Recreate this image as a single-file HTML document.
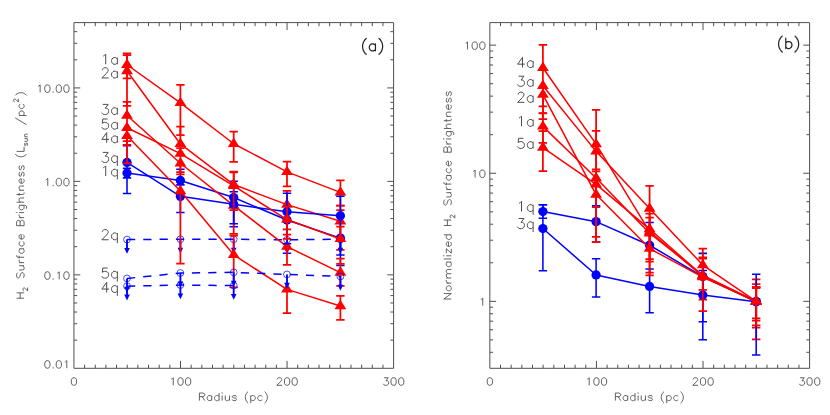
<!DOCTYPE html>
<html><head><meta charset="utf-8"><title>H2 surface brightness</title>
<style>html,body{margin:0;padding:0;background:#fff;font-family:"Liberation Sans",sans-serif;}svg{display:block}</style>
</head><body>
<svg width="830" height="415" viewBox="0 0 830 415">
<rect width="830" height="415" fill="#fff"/>
<path d="M73.95 22.6 H393.6 V368.3 H73.95 Z M84.61 368.3 v-3.6 M84.61 22.6 v3.6 M95.26 368.3 v-3.6 M95.26 22.6 v3.6 M105.92 368.3 v-3.6 M105.92 22.6 v3.6 M116.57 368.3 v-3.6 M116.57 22.6 v3.6 M127.23 368.3 v-3.6 M127.23 22.6 v3.6 M137.88 368.3 v-3.6 M137.88 22.6 v3.6 M148.54 368.3 v-3.6 M148.54 22.6 v3.6 M159.19 368.3 v-3.6 M159.19 22.6 v3.6 M169.85 368.3 v-3.6 M169.85 22.6 v3.6 M180.5 368.3 v-7.4 M180.5 22.6 v7.4 M191.16 368.3 v-3.6 M191.16 22.6 v3.6 M201.81 368.3 v-3.6 M201.81 22.6 v3.6 M212.47 368.3 v-3.6 M212.47 22.6 v3.6 M223.12 368.3 v-3.6 M223.12 22.6 v3.6 M233.78 368.3 v-3.6 M233.78 22.6 v3.6 M244.43 368.3 v-3.6 M244.43 22.6 v3.6 M255.09 368.3 v-3.6 M255.09 22.6 v3.6 M265.74 368.3 v-3.6 M265.74 22.6 v3.6 M276.4 368.3 v-3.6 M276.4 22.6 v3.6 M287.05 368.3 v-7.4 M287.05 22.6 v7.4 M297.71 368.3 v-3.6 M297.71 22.6 v3.6 M308.36 368.3 v-3.6 M308.36 22.6 v3.6 M319.02 368.3 v-3.6 M319.02 22.6 v3.6 M329.67 368.3 v-3.6 M329.67 22.6 v3.6 M340.33 368.3 v-3.6 M340.33 22.6 v3.6 M350.98 368.3 v-3.6 M350.98 22.6 v3.6 M361.64 368.3 v-3.6 M361.64 22.6 v3.6 M372.29 368.3 v-3.6 M372.29 22.6 v3.6 M382.94 368.3 v-3.6 M382.94 22.6 v3.6 M73.95 340.17 h3.2 M393.6 340.17 h-3.2 M73.95 323.71 h3.2 M393.6 323.71 h-3.2 M73.95 312.03 h3.2 M393.6 312.03 h-3.2 M73.95 302.98 h3.2 M393.6 302.98 h-3.2 M73.95 295.58 h3.2 M393.6 295.58 h-3.2 M73.95 289.32 h3.2 M393.6 289.32 h-3.2 M73.95 283.9 h3.2 M393.6 283.9 h-3.2 M73.95 279.12 h3.2 M393.6 279.12 h-3.2 M73.95 274.84 h6.3 M393.6 274.84 h-6.3 M73.95 246.71 h3.2 M393.6 246.71 h-3.2 M73.95 230.25 h3.2 M393.6 230.25 h-3.2 M73.95 218.57 h3.2 M393.6 218.57 h-3.2 M73.95 209.52 h3.2 M393.6 209.52 h-3.2 M73.95 202.12 h3.2 M393.6 202.12 h-3.2 M73.95 195.86 h3.2 M393.6 195.86 h-3.2 M73.95 190.44 h3.2 M393.6 190.44 h-3.2 M73.95 185.66 h3.2 M393.6 185.66 h-3.2 M73.95 181.38 h6.3 M393.6 181.38 h-6.3 M73.95 153.25 h3.2 M393.6 153.25 h-3.2 M73.95 136.79 h3.2 M393.6 136.79 h-3.2 M73.95 125.12 h3.2 M393.6 125.12 h-3.2 M73.95 116.06 h3.2 M393.6 116.06 h-3.2 M73.95 108.66 h3.2 M393.6 108.66 h-3.2 M73.95 102.4 h3.2 M393.6 102.4 h-3.2 M73.95 96.98 h3.2 M393.6 96.98 h-3.2 M73.95 92.2 h3.2 M393.6 92.2 h-3.2 M73.95 87.92 h6.3 M393.6 87.92 h-6.3 M73.95 59.79 h3.2 M393.6 59.79 h-3.2 M73.95 43.33 h3.2 M393.6 43.33 h-3.2 M73.95 31.66 h3.2 M393.6 31.66 h-3.2" fill="none" stroke="#505050" stroke-width="1.0" stroke-opacity="1" stroke-linecap="butt" stroke-linejoin="miter"/>
<path d="M489.85 22.6 H809.6 V368.3 H489.85 Z M500.51 368.3 v-3.6 M500.51 22.6 v3.6 M511.17 368.3 v-3.6 M511.17 22.6 v3.6 M521.83 368.3 v-3.6 M521.83 22.6 v3.6 M532.48 368.3 v-3.6 M532.48 22.6 v3.6 M543.14 368.3 v-3.6 M543.14 22.6 v3.6 M553.8 368.3 v-3.6 M553.8 22.6 v3.6 M564.46 368.3 v-3.6 M564.46 22.6 v3.6 M575.12 368.3 v-3.6 M575.12 22.6 v3.6 M585.77 368.3 v-3.6 M585.77 22.6 v3.6 M596.43 368.3 v-7.4 M596.43 22.6 v7.4 M607.09 368.3 v-3.6 M607.09 22.6 v3.6 M617.75 368.3 v-3.6 M617.75 22.6 v3.6 M628.41 368.3 v-3.6 M628.41 22.6 v3.6 M639.07 368.3 v-3.6 M639.07 22.6 v3.6 M649.73 368.3 v-3.6 M649.73 22.6 v3.6 M660.38 368.3 v-3.6 M660.38 22.6 v3.6 M671.04 368.3 v-3.6 M671.04 22.6 v3.6 M681.7 368.3 v-3.6 M681.7 22.6 v3.6 M692.36 368.3 v-3.6 M692.36 22.6 v3.6 M703.02 368.3 v-7.4 M703.02 22.6 v7.4 M713.67 368.3 v-3.6 M713.67 22.6 v3.6 M724.33 368.3 v-3.6 M724.33 22.6 v3.6 M734.99 368.3 v-3.6 M734.99 22.6 v3.6 M745.65 368.3 v-3.6 M745.65 22.6 v3.6 M756.31 368.3 v-3.6 M756.31 22.6 v3.6 M766.97 368.3 v-3.6 M766.97 22.6 v3.6 M777.62 368.3 v-3.6 M777.62 22.6 v3.6 M788.28 368.3 v-3.6 M788.28 22.6 v3.6 M798.94 368.3 v-3.6 M798.94 22.6 v3.6 M489.85 352.3 h3.2 M809.6 352.3 h-3.2 M489.85 339.88 h3.2 M809.6 339.88 h-3.2 M489.85 329.74 h3.2 M809.6 329.74 h-3.2 M489.85 321.17 h3.2 M809.6 321.17 h-3.2 M489.85 313.74 h3.2 M809.6 313.74 h-3.2 M489.85 307.19 h3.2 M809.6 307.19 h-3.2 M489.85 301.33 h6.3 M809.6 301.33 h-6.3 M489.85 262.77 h3.2 M809.6 262.77 h-3.2 M489.85 240.21 h3.2 M809.6 240.21 h-3.2 M489.85 224.21 h3.2 M809.6 224.21 h-3.2 M489.85 211.8 h3.2 M809.6 211.8 h-3.2 M489.85 201.66 h3.2 M809.6 201.66 h-3.2 M489.85 193.08 h3.2 M809.6 193.08 h-3.2 M489.85 185.65 h3.2 M809.6 185.65 h-3.2 M489.85 179.1 h3.2 M809.6 179.1 h-3.2 M489.85 173.24 h6.3 M809.6 173.24 h-6.3 M489.85 134.68 h3.2 M809.6 134.68 h-3.2 M489.85 112.13 h3.2 M809.6 112.13 h-3.2 M489.85 96.13 h3.2 M809.6 96.13 h-3.2 M489.85 83.71 h3.2 M809.6 83.71 h-3.2 M489.85 73.57 h3.2 M809.6 73.57 h-3.2 M489.85 65 h3.2 M809.6 65 h-3.2 M489.85 57.57 h3.2 M809.6 57.57 h-3.2 M489.85 51.02 h3.2 M809.6 51.02 h-3.2 M489.85 45.15 h6.3 M809.6 45.15 h-6.3" fill="none" stroke="#505050" stroke-width="1.0" stroke-opacity="1" stroke-linecap="butt" stroke-linejoin="miter"/>
<path d="M73.57 377.74 L72.43 378.1 L71.66 379.18 L71.28 380.98 L71.28 382.06 L71.66 383.86 L72.43 384.94 L73.57 385.3 L74.33 385.3 L75.47 384.94 L76.24 383.86 L76.62 382.06 L76.62 380.98 L76.24 379.18 L75.47 378.1 L74.33 377.74 L73.57 377.74 M171.36 379.18 L172.12 378.82 L173.26 377.74 L173.26 385.3 M180.12 377.74 L178.98 378.1 L178.21 379.18 L177.83 380.98 L177.83 382.06 L178.21 383.86 L178.98 384.94 L180.12 385.3 L180.88 385.3 L182.02 384.94 L182.79 383.86 L183.17 382.06 L183.17 380.98 L182.79 379.18 L182.02 378.1 L180.88 377.74 L180.12 377.74 M187.74 377.74 L186.6 378.1 L185.83 379.18 L185.45 380.98 L185.45 382.06 L185.83 383.86 L186.6 384.94 L187.74 385.3 L188.5 385.3 L189.64 384.94 L190.41 383.86 L190.79 382.06 L190.79 380.98 L190.41 379.18 L189.64 378.1 L188.5 377.74 L187.74 377.74 M277.14 379.54 L277.14 379.18 L277.53 378.46 L277.91 378.1 L278.67 377.74 L280.19 377.74 L280.95 378.1 L281.34 378.46 L281.72 379.18 L281.72 379.9 L281.34 380.62 L280.57 381.7 L276.76 385.3 L282.1 385.3 M286.67 377.74 L285.53 378.1 L284.76 379.18 L284.38 380.98 L284.38 382.06 L284.76 383.86 L285.53 384.94 L286.67 385.3 L287.43 385.3 L288.57 384.94 L289.34 383.86 L289.72 382.06 L289.72 380.98 L289.34 379.18 L288.57 378.1 L287.43 377.74 L286.67 377.74 M294.29 377.74 L293.15 378.1 L292.38 379.18 L292 380.98 L292 382.06 L292.38 383.86 L293.15 384.94 L294.29 385.3 L295.05 385.3 L296.19 384.94 L296.96 383.86 L297.34 382.06 L297.34 380.98 L296.96 379.18 L296.19 378.1 L295.05 377.74 L294.29 377.74 M384.08 377.74 L388.27 377.74 L385.98 380.62 L387.12 380.62 L387.89 380.98 L388.27 381.34 L388.65 382.42 L388.65 383.14 L388.27 384.22 L387.5 384.94 L386.36 385.3 L385.22 385.3 L384.08 384.94 L383.69 384.58 L383.31 383.86 M393.22 377.74 L392.08 378.1 L391.31 379.18 L390.93 380.98 L390.93 382.06 L391.31 383.86 L392.08 384.94 L393.22 385.3 L393.98 385.3 L395.12 384.94 L395.89 383.86 L396.27 382.06 L396.27 380.98 L395.89 379.18 L395.12 378.1 L393.98 377.74 L393.22 377.74 M400.84 377.74 L399.7 378.1 L398.93 379.18 L398.55 380.98 L398.55 382.06 L398.93 383.86 L399.7 384.94 L400.84 385.3 L401.6 385.3 L402.74 384.94 L403.51 383.86 L403.89 382.06 L403.89 380.98 L403.51 379.18 L402.74 378.1 L401.6 377.74 L400.84 377.74 M199.41 393.04 L199.41 400.6 M199.41 393.04 L202.88 393.04 L204.04 393.4 L204.43 393.76 L204.81 394.48 L204.81 395.2 L204.43 395.92 L204.04 396.28 L202.88 396.64 L199.41 396.64 M202.11 396.64 L204.81 400.6 M211.76 395.56 L211.76 400.6 M211.76 396.64 L210.99 395.92 L210.22 395.56 L209.06 395.56 L208.28 395.92 L207.51 396.64 L207.13 397.72 L207.13 398.44 L207.51 399.52 L208.28 400.24 L209.06 400.6 L210.22 400.6 L210.99 400.24 L211.76 399.52 M219.09 393.04 L219.09 400.6 M219.09 396.64 L218.32 395.92 L217.55 395.56 L216.39 395.56 L215.62 395.92 L214.85 396.64 L214.46 397.72 L214.46 398.44 L214.85 399.52 L215.62 400.24 L216.39 400.6 L217.55 400.6 L218.32 400.24 L219.09 399.52 M221.79 393.04 L222.18 393.4 L222.57 393.04 L222.18 392.68 L221.79 393.04 M222.18 395.56 L222.18 400.6 M225.27 395.56 L225.27 399.16 L225.66 400.24 L226.43 400.6 L227.59 400.6 L228.36 400.24 L229.52 399.16 M229.52 395.56 L229.52 400.6 M236.46 396.64 L236.08 395.92 L234.92 395.56 L233.76 395.56 L232.6 395.92 L232.22 396.64 L232.6 397.36 L233.38 397.72 L235.31 398.08 L236.08 398.44 L236.46 399.16 L236.46 399.52 L236.08 400.24 L234.92 400.6 L233.76 400.6 L232.6 400.24 L232.22 399.52 M248.04 391.6 L247.27 392.32 L246.5 393.4 L245.73 394.84 L245.34 396.64 L245.34 398.08 L245.73 399.88 L246.5 401.32 L247.27 402.4 L248.04 403.12 M250.75 395.56 L250.75 403.12 M250.75 396.64 L251.52 395.92 L252.29 395.56 L253.45 395.56 L254.22 395.92 L254.99 396.64 L255.38 397.72 L255.38 398.44 L254.99 399.52 L254.22 400.24 L253.45 400.6 L252.29 400.6 L251.52 400.24 L250.75 399.52 M262.32 396.64 L261.55 395.92 L260.78 395.56 L259.62 395.56 L258.85 395.92 L258.08 396.64 L257.69 397.72 L257.69 398.44 L258.08 399.52 L258.85 400.24 L259.62 400.6 L260.78 400.6 L261.55 400.24 L262.32 399.52 M264.64 391.6 L265.41 392.32 L266.19 393.4 L266.96 394.84 L267.34 396.64 L267.34 398.08 L266.96 399.88 L266.19 401.32 L265.41 402.4 L264.64 403.12 M489.47 377.74 L488.33 378.1 L487.56 379.18 L487.18 380.98 L487.18 382.06 L487.56 383.86 L488.33 384.94 L489.47 385.3 L490.23 385.3 L491.37 384.94 L492.14 383.86 L492.52 382.06 L492.52 380.98 L492.14 379.18 L491.37 378.1 L490.23 377.74 L489.47 377.74 M587.29 379.18 L588.05 378.82 L589.19 377.74 L589.19 385.3 M596.05 377.74 L594.91 378.1 L594.15 379.18 L593.77 380.98 L593.77 382.06 L594.15 383.86 L594.91 384.94 L596.05 385.3 L596.81 385.3 L597.96 384.94 L598.72 383.86 L599.1 382.06 L599.1 380.98 L598.72 379.18 L597.96 378.1 L596.81 377.74 L596.05 377.74 M603.67 377.74 L602.53 378.1 L601.77 379.18 L601.39 380.98 L601.39 382.06 L601.77 383.86 L602.53 384.94 L603.67 385.3 L604.43 385.3 L605.58 384.94 L606.34 383.86 L606.72 382.06 L606.72 380.98 L606.34 379.18 L605.58 378.1 L604.43 377.74 L603.67 377.74 M693.11 379.54 L693.11 379.18 L693.49 378.46 L693.87 378.1 L694.63 377.74 L696.16 377.74 L696.92 378.1 L697.3 378.46 L697.68 379.18 L697.68 379.9 L697.3 380.62 L696.54 381.7 L692.73 385.3 L698.06 385.3 M702.64 377.74 L701.49 378.1 L700.73 379.18 L700.35 380.98 L700.35 382.06 L700.73 383.86 L701.49 384.94 L702.64 385.3 L703.4 385.3 L704.54 384.94 L705.3 383.86 L705.68 382.06 L705.68 380.98 L705.3 379.18 L704.54 378.1 L703.4 377.74 L702.64 377.74 M710.26 377.74 L709.11 378.1 L708.35 379.18 L707.97 380.98 L707.97 382.06 L708.35 383.86 L709.11 384.94 L710.26 385.3 L711.02 385.3 L712.16 384.94 L712.92 383.86 L713.3 382.06 L713.3 380.98 L712.92 379.18 L712.16 378.1 L711.02 377.74 L710.26 377.74 M800.08 377.74 L804.27 377.74 L801.98 380.62 L803.12 380.62 L803.88 380.98 L804.27 381.34 L804.65 382.42 L804.65 383.14 L804.27 384.22 L803.5 384.94 L802.36 385.3 L801.22 385.3 L800.08 384.94 L799.69 384.58 L799.31 383.86 M809.22 377.74 L808.08 378.1 L807.31 379.18 L806.93 380.98 L806.93 382.06 L807.31 383.86 L808.08 384.94 L809.22 385.3 L809.98 385.3 L811.12 384.94 L811.89 383.86 L812.27 382.06 L812.27 380.98 L811.89 379.18 L811.12 378.1 L809.98 377.74 L809.22 377.74 M816.84 377.74 L815.7 378.1 L814.93 379.18 L814.55 380.98 L814.55 382.06 L814.93 383.86 L815.7 384.94 L816.84 385.3 L817.6 385.3 L818.74 384.94 L819.51 383.86 L819.89 382.06 L819.89 380.98 L819.51 379.18 L818.74 378.1 L817.6 377.74 L816.84 377.74 M615.36 393.04 L615.36 400.6 M615.36 393.04 L618.83 393.04 L619.99 393.4 L620.38 393.76 L620.76 394.48 L620.76 395.2 L620.38 395.92 L619.99 396.28 L618.83 396.64 L615.36 396.64 M618.06 396.64 L620.76 400.6 M627.71 395.56 L627.71 400.6 M627.71 396.64 L626.94 395.92 L626.17 395.56 L625.01 395.56 L624.24 395.92 L623.46 396.64 L623.08 397.72 L623.08 398.44 L623.46 399.52 L624.24 400.24 L625.01 400.6 L626.17 400.6 L626.94 400.24 L627.71 399.52 M635.04 393.04 L635.04 400.6 M635.04 396.64 L634.27 395.92 L633.5 395.56 L632.34 395.56 L631.57 395.92 L630.8 396.64 L630.41 397.72 L630.41 398.44 L630.8 399.52 L631.57 400.24 L632.34 400.6 L633.5 400.6 L634.27 400.24 L635.04 399.52 M637.75 393.04 L638.13 393.4 L638.52 393.04 L638.13 392.68 L637.75 393.04 M638.13 395.56 L638.13 400.6 M641.22 395.56 L641.22 399.16 L641.61 400.24 L642.38 400.6 L643.54 400.6 L644.31 400.24 L645.47 399.16 M645.47 395.56 L645.47 400.6 M652.41 396.64 L652.03 395.92 L650.87 395.56 L649.71 395.56 L648.55 395.92 L648.17 396.64 L648.55 397.36 L649.33 397.72 L651.25 398.08 L652.03 398.44 L652.41 399.16 L652.41 399.52 L652.03 400.24 L650.87 400.6 L649.71 400.6 L648.55 400.24 L648.17 399.52 M663.99 391.6 L663.22 392.32 L662.45 393.4 L661.68 394.84 L661.29 396.64 L661.29 398.08 L661.68 399.88 L662.45 401.32 L663.22 402.4 L663.99 403.12 M666.7 395.56 L666.7 403.12 M666.7 396.64 L667.47 395.92 L668.24 395.56 L669.4 395.56 L670.17 395.92 L670.94 396.64 L671.33 397.72 L671.33 398.44 L670.94 399.52 L670.17 400.24 L669.4 400.6 L668.24 400.6 L667.47 400.24 L666.7 399.52 M678.28 396.64 L677.5 395.92 L676.73 395.56 L675.57 395.56 L674.8 395.92 L674.03 396.64 L673.64 397.72 L673.64 398.44 L674.03 399.52 L674.8 400.24 L675.57 400.6 L676.73 400.6 L677.5 400.24 L678.28 399.52 M680.59 391.6 L681.36 392.32 L682.13 393.4 L682.91 394.84 L683.29 396.64 L683.29 398.08 L682.91 399.88 L682.13 401.32 L681.36 402.4 L680.59 403.12 M47.01 360.64 L45.87 361 L45.1 362.08 L44.72 363.88 L44.72 364.96 L45.1 366.76 L45.87 367.84 L47.01 368.2 L47.77 368.2 L48.91 367.84 L49.68 366.76 L50.06 364.96 L50.06 363.88 L49.68 362.08 L48.91 361 L47.77 360.64 L47.01 360.64 M53.11 367.48 L52.72 367.84 L53.11 368.2 L53.49 367.84 L53.11 367.48 M58.44 360.64 L57.3 361 L56.53 362.08 L56.15 363.88 L56.15 364.96 L56.53 366.76 L57.3 367.84 L58.44 368.2 L59.2 368.2 L60.34 367.84 L61.11 366.76 L61.49 364.96 L61.49 363.88 L61.11 362.08 L60.34 361 L59.2 360.64 L58.44 360.64 M64.92 362.08 L65.68 361.72 L66.82 360.64 L66.82 368.2 M47.01 271.78 L45.87 272.14 L45.1 273.22 L44.72 275.02 L44.72 276.1 L45.1 277.9 L45.87 278.98 L47.01 279.34 L47.77 279.34 L48.91 278.98 L49.68 277.9 L50.06 276.1 L50.06 275.02 L49.68 273.22 L48.91 272.14 L47.77 271.78 L47.01 271.78 M53.11 278.62 L52.72 278.98 L53.11 279.34 L53.49 278.98 L53.11 278.62 M57.3 273.22 L58.06 272.86 L59.2 271.78 L59.2 279.34 M66.06 271.78 L64.92 272.14 L64.15 273.22 L63.77 275.02 L63.77 276.1 L64.15 277.9 L64.92 278.98 L66.06 279.34 L66.82 279.34 L67.96 278.98 L68.73 277.9 L69.11 276.1 L69.11 275.02 L68.73 273.22 L67.96 272.14 L66.82 271.78 L66.06 271.78 M45.87 179.76 L46.63 179.4 L47.77 178.32 L47.77 185.88 M53.11 185.16 L52.72 185.52 L53.11 185.88 L53.49 185.52 L53.11 185.16 M58.44 178.32 L57.3 178.68 L56.53 179.76 L56.15 181.56 L56.15 182.64 L56.53 184.44 L57.3 185.52 L58.44 185.88 L59.2 185.88 L60.34 185.52 L61.11 184.44 L61.49 182.64 L61.49 181.56 L61.11 179.76 L60.34 178.68 L59.2 178.32 L58.44 178.32 M66.06 178.32 L64.92 178.68 L64.15 179.76 L63.77 181.56 L63.77 182.64 L64.15 184.44 L64.92 185.52 L66.06 185.88 L66.82 185.88 L67.96 185.52 L68.73 184.44 L69.11 182.64 L69.11 181.56 L68.73 179.76 L67.96 178.68 L66.82 178.32 L66.06 178.32 M38.25 86.3 L39.01 85.94 L40.15 84.86 L40.15 92.42 M47.01 84.86 L45.87 85.22 L45.1 86.3 L44.72 88.1 L44.72 89.18 L45.1 90.98 L45.87 92.06 L47.01 92.42 L47.77 92.42 L48.91 92.06 L49.68 90.98 L50.06 89.18 L50.06 88.1 L49.68 86.3 L48.91 85.22 L47.77 84.86 L47.01 84.86 M53.11 91.7 L52.72 92.06 L53.11 92.42 L53.49 92.06 L53.11 91.7 M58.44 84.86 L57.3 85.22 L56.53 86.3 L56.15 88.1 L56.15 89.18 L56.53 90.98 L57.3 92.06 L58.44 92.42 L59.2 92.42 L60.34 92.06 L61.11 90.98 L61.49 89.18 L61.49 88.1 L61.11 86.3 L60.34 85.22 L59.2 84.86 L58.44 84.86 M66.06 84.86 L64.92 85.22 L64.15 86.3 L63.77 88.1 L63.77 89.18 L64.15 90.98 L64.92 92.06 L66.06 92.42 L66.82 92.42 L67.96 92.06 L68.73 90.98 L69.11 89.18 L69.11 88.1 L68.73 86.3 L67.96 85.22 L66.82 84.86 L66.06 84.86 M480.82 299.51 L481.58 299.15 L482.72 298.07 L482.72 305.63 M473.2 171.42 L473.96 171.06 L475.1 169.98 L475.1 177.54 M481.96 169.98 L480.82 170.34 L480.05 171.42 L479.67 173.22 L479.67 174.3 L480.05 176.1 L480.82 177.18 L481.96 177.54 L482.72 177.54 L483.86 177.18 L484.63 176.1 L485.01 174.3 L485.01 173.22 L484.63 171.42 L483.86 170.34 L482.72 169.98 L481.96 169.98 M465.58 43.33 L466.34 42.97 L467.48 41.89 L467.48 49.45 M474.34 41.89 L473.2 42.25 L472.43 43.33 L472.05 45.13 L472.05 46.21 L472.43 48.01 L473.2 49.09 L474.34 49.45 L475.1 49.45 L476.24 49.09 L477.01 48.01 L477.39 46.21 L477.39 45.13 L477.01 43.33 L476.24 42.25 L475.1 41.89 L474.34 41.89 M481.96 41.89 L480.82 42.25 L480.05 43.33 L479.67 45.13 L479.67 46.21 L480.05 48.01 L480.82 49.09 L481.96 49.45 L482.72 49.45 L483.86 49.09 L484.63 48.01 L485.01 46.21 L485.01 45.13 L484.63 43.33 L483.86 42.25 L482.72 41.89 L481.96 41.89 M16.6 298.23 L24.1 298.23 M16.6 292.84 L24.1 292.84 M20.17 298.23 L20.17 292.84 M24.06 290.73 L23.84 290.73 L23.39 290.49 L23.17 290.25 L22.95 289.77 L22.95 288.82 L23.17 288.34 L23.39 288.1 L23.84 287.86 L24.28 287.86 L24.72 288.1 L25.39 288.58 L27.6 290.96 L27.6 287.62 M17.67 272.66 L16.96 273.43 L16.6 274.59 L16.6 276.13 L16.96 277.28 L17.67 278.05 L18.39 278.05 L19.1 277.67 L19.46 277.28 L19.82 276.51 L20.53 274.2 L20.89 273.43 L21.24 273.05 L21.96 272.66 L23.03 272.66 L23.74 273.43 L24.1 274.59 L24.1 276.13 L23.74 277.28 L23.03 278.05 M19.1 269.97 L22.67 269.97 L23.74 269.58 L24.1 268.81 L24.1 267.66 L23.74 266.89 L22.67 265.73 M19.1 265.73 L24.1 265.73 M19.1 262.65 L24.1 262.65 M21.24 262.65 L20.17 262.27 L19.46 261.5 L19.1 260.73 L19.1 259.57 M16.6 255.34 L16.6 256.11 L16.96 256.88 L18.03 257.26 L24.1 257.26 M19.1 258.42 L19.1 255.72 M19.1 248.79 L24.1 248.79 M20.17 248.79 L19.46 249.56 L19.1 250.33 L19.1 251.49 L19.46 252.26 L20.17 253.03 L21.24 253.41 L21.96 253.41 L23.03 253.03 L23.74 252.26 L24.1 251.49 L24.1 250.33 L23.74 249.56 L23.03 248.79 M20.17 241.48 L19.46 242.25 L19.1 243.02 L19.1 244.17 L19.46 244.94 L20.17 245.71 L21.24 246.1 L21.96 246.1 L23.03 245.71 L23.74 244.94 L24.1 244.17 L24.1 243.02 L23.74 242.25 L23.03 241.48 M21.24 239.17 L21.24 234.55 L20.53 234.55 L19.82 234.93 L19.46 235.32 L19.1 236.09 L19.1 237.24 L19.46 238.01 L20.17 238.78 L21.24 239.17 L21.96 239.17 L23.03 238.78 L23.74 238.01 L24.1 237.24 L24.1 236.09 L23.74 235.32 L23.03 234.55 M16.6 225.69 L24.1 225.69 M16.6 225.69 L16.6 222.23 L16.96 221.07 L17.32 220.69 L18.03 220.3 L18.75 220.3 L19.46 220.69 L19.82 221.07 L20.17 222.23 M20.17 225.69 L20.17 222.23 L20.53 221.07 L20.89 220.69 L21.6 220.3 L22.67 220.3 L23.39 220.69 L23.74 221.07 L24.1 222.23 L24.1 225.69 M19.1 217.61 L24.1 217.61 M21.24 217.61 L20.17 217.22 L19.46 216.45 L19.1 215.68 L19.1 214.53 M16.6 212.99 L16.96 212.6 L16.6 212.22 L16.25 212.6 L16.6 212.99 M19.1 212.6 L24.1 212.6 M19.1 205.29 L24.81 205.29 L25.89 205.67 L26.24 206.06 L26.6 206.83 L26.6 207.98 L26.24 208.75 M20.17 205.29 L19.46 206.06 L19.1 206.83 L19.1 207.98 L19.46 208.75 L20.17 209.52 L21.24 209.91 L21.96 209.91 L23.03 209.52 L23.74 208.75 L24.1 207.98 L24.1 206.83 L23.74 206.06 L23.03 205.29 M16.6 202.21 L24.1 202.21 M20.53 202.21 L19.46 201.05 L19.1 200.28 L19.1 199.13 L19.46 198.36 L20.53 197.97 L24.1 197.97 M16.6 194.51 L22.67 194.51 L23.74 194.12 L24.1 193.35 L24.1 192.58 M19.1 195.66 L19.1 192.97 M19.1 190.27 L24.1 190.27 M20.53 190.27 L19.46 189.12 L19.1 188.35 L19.1 187.19 L19.46 186.42 L20.53 186.04 L24.1 186.04 M21.24 183.34 L21.24 178.72 L20.53 178.72 L19.82 179.11 L19.46 179.49 L19.1 180.26 L19.1 181.42 L19.46 182.19 L20.17 182.96 L21.24 183.34 L21.96 183.34 L23.03 182.96 L23.74 182.19 L24.1 181.42 L24.1 180.26 L23.74 179.49 L23.03 178.72 M20.17 172.18 L19.46 172.56 L19.1 173.72 L19.1 174.87 L19.46 176.03 L20.17 176.41 L20.89 176.03 L21.24 175.26 L21.6 173.33 L21.96 172.56 L22.67 172.18 L23.03 172.18 L23.74 172.56 L24.1 173.72 L24.1 174.87 L23.74 176.03 L23.03 176.41 M20.17 165.63 L19.46 166.02 L19.1 167.17 L19.1 168.33 L19.46 169.48 L20.17 169.87 L20.89 169.48 L21.24 168.71 L21.6 166.79 L21.96 166.02 L22.67 165.63 L23.03 165.63 L23.74 166.02 L24.1 167.17 L24.1 168.33 L23.74 169.48 L23.03 169.87 M15.18 154.08 L15.89 154.85 L16.96 155.62 L18.39 156.39 L20.17 156.78 L21.6 156.78 L23.39 156.39 L24.81 155.62 L25.89 154.85 L26.6 154.08 M16.6 151.39 L24.1 151.39 M24.1 151.39 L24.1 146.77 M25.17 143.04 L24.72 143.28 L24.5 143.99 L24.5 144.71 L24.72 145.43 L25.17 145.67 L25.61 145.43 L25.83 144.95 L26.05 143.76 L26.27 143.28 L26.71 143.04 L26.94 143.04 L27.38 143.28 L27.6 143.99 L27.6 144.71 L27.38 145.43 L26.94 145.67 M24.5 141.37 L26.71 141.37 L27.38 141.13 L27.6 140.65 L27.6 139.94 L27.38 139.46 L26.71 138.74 M24.5 138.74 L27.6 138.74 M24.5 136.83 L27.6 136.83 M25.39 136.83 L24.72 136.12 L24.5 135.64 L24.5 134.92 L24.72 134.45 L25.39 134.21 L27.6 134.21 M15.18 117.85 L26.6 124.78 M19.1 115.54 L26.6 115.54 M20.17 115.54 L19.46 114.77 L19.1 114 L19.1 112.85 L19.46 112.08 L20.17 111.31 L21.24 110.92 L21.96 110.92 L23.03 111.31 L23.74 112.08 L24.1 112.85 L24.1 114 L23.74 114.77 L23.03 115.54 M20.17 103.99 L19.46 104.76 L19.1 105.53 L19.1 106.69 L19.46 107.46 L20.17 108.23 L21.24 108.61 L21.96 108.61 L23.03 108.23 L23.74 107.46 L24.1 106.69 L24.1 105.53 L23.74 104.76 L23.03 103.99 M14.76 101.88 L14.54 101.88 L14.09 101.64 L13.87 101.41 L13.65 100.93 L13.65 99.97 L13.87 99.5 L14.09 99.26 L14.54 99.02 L14.98 99.02 L15.42 99.26 L16.09 99.74 L18.3 102.12 L18.3 98.78 M15.18 95.37 L15.89 94.6 L16.96 93.83 L18.39 93.06 L20.17 92.67 L21.6 92.67 L23.39 93.06 L24.81 93.83 L25.89 94.6 L26.6 95.37 M443.8 299 L451.3 299 M443.8 299 L451.3 293.56 M443.8 293.56 L451.3 293.56 M446.3 288.89 L446.66 289.67 L447.37 290.44 L448.44 290.83 L449.16 290.83 L450.23 290.44 L450.94 289.67 L451.3 288.89 L451.3 287.72 L450.94 286.94 L450.23 286.16 L449.16 285.78 L448.44 285.78 L447.37 286.16 L446.66 286.94 L446.3 287.72 L446.3 288.89 M446.3 283.05 L451.3 283.05 M448.44 283.05 L447.37 282.66 L446.66 281.89 L446.3 281.11 L446.3 279.94 M446.3 278 L451.3 278 M447.73 278 L446.66 276.83 L446.3 276.05 L446.3 274.88 L446.66 274.11 L447.73 273.72 L451.3 273.72 M447.73 273.72 L446.66 272.55 L446.3 271.77 L446.3 270.6 L446.66 269.83 L447.73 269.44 L451.3 269.44 M446.3 262.05 L451.3 262.05 M447.37 262.05 L446.66 262.82 L446.3 263.6 L446.3 264.77 L446.66 265.55 L447.37 266.33 L448.44 266.71 L449.16 266.71 L450.23 266.33 L450.94 265.55 L451.3 264.77 L451.3 263.6 L450.94 262.82 L450.23 262.05 M443.8 258.93 L451.3 258.93 M443.8 256.21 L444.16 255.82 L443.8 255.43 L443.45 255.82 L443.8 256.21 M446.3 255.82 L451.3 255.82 M446.3 248.82 L451.3 253.1 M446.3 253.1 L446.3 248.82 M451.3 253.1 L451.3 248.82 M448.44 246.49 L448.44 241.82 L447.73 241.82 L447.02 242.21 L446.66 242.6 L446.3 243.37 L446.3 244.54 L446.66 245.32 L447.37 246.1 L448.44 246.49 L449.16 246.49 L450.23 246.1 L450.94 245.32 L451.3 244.54 L451.3 243.37 L450.94 242.6 L450.23 241.82 M443.8 234.82 L451.3 234.82 M447.37 234.82 L446.66 235.59 L446.3 236.37 L446.3 237.54 L446.66 238.32 L447.37 239.1 L448.44 239.48 L449.16 239.48 L450.23 239.1 L450.94 238.32 L451.3 237.54 L451.3 236.37 L450.94 235.59 L450.23 234.82 M443.8 225.48 L451.3 225.48 M443.8 220.03 L451.3 220.03 M447.37 225.48 L447.37 220.03 M451.26 217.9 L451.04 217.9 L450.59 217.66 L450.37 217.42 L450.15 216.94 L450.15 215.97 L450.37 215.49 L450.59 215.25 L451.04 215.01 L451.48 215.01 L451.92 215.25 L452.59 215.73 L454.8 218.14 L454.8 214.77 M444.87 199.65 L444.16 200.43 L443.8 201.6 L443.8 203.15 L444.16 204.32 L444.87 205.1 L445.59 205.1 L446.3 204.71 L446.66 204.32 L447.02 203.54 L447.73 201.21 L448.09 200.43 L448.44 200.04 L449.16 199.65 L450.23 199.65 L450.94 200.43 L451.3 201.6 L451.3 203.15 L450.94 204.32 L450.23 205.1 M446.3 196.93 L449.87 196.93 L450.94 196.54 L451.3 195.76 L451.3 194.59 L450.94 193.82 L449.87 192.65 M446.3 192.65 L451.3 192.65 M446.3 189.54 L451.3 189.54 M448.44 189.54 L447.37 189.15 L446.66 188.37 L446.3 187.59 L446.3 186.43 M443.8 182.15 L443.8 182.92 L444.16 183.7 L445.23 184.09 L451.3 184.09 M446.3 185.26 L446.3 182.54 M446.3 175.53 L451.3 175.53 M447.37 175.53 L446.66 176.31 L446.3 177.09 L446.3 178.26 L446.66 179.03 L447.37 179.81 L448.44 180.2 L449.16 180.2 L450.23 179.81 L450.94 179.03 L451.3 178.26 L451.3 177.09 L450.94 176.31 L450.23 175.53 M447.37 168.14 L446.66 168.92 L446.3 169.7 L446.3 170.87 L446.66 171.64 L447.37 172.42 L448.44 172.81 L449.16 172.81 L450.23 172.42 L450.94 171.64 L451.3 170.87 L451.3 169.7 L450.94 168.92 L450.23 168.14 M448.44 165.81 L448.44 161.14 L447.73 161.14 L447.02 161.53 L446.66 161.92 L446.3 162.7 L446.3 163.86 L446.66 164.64 L447.37 165.42 L448.44 165.81 L449.16 165.81 L450.23 165.42 L450.94 164.64 L451.3 163.86 L451.3 162.7 L450.94 161.92 L450.23 161.14 M443.8 152.19 L451.3 152.19 M443.8 152.19 L443.8 148.69 L444.16 147.53 L444.52 147.14 L445.23 146.75 L445.94 146.75 L446.66 147.14 L447.02 147.53 L447.37 148.69 M447.37 152.19 L447.37 148.69 L447.73 147.53 L448.09 147.14 L448.8 146.75 L449.87 146.75 L450.59 147.14 L450.94 147.53 L451.3 148.69 L451.3 152.19 M446.3 144.02 L451.3 144.02 M448.44 144.02 L447.37 143.64 L446.66 142.86 L446.3 142.08 L446.3 140.91 M443.8 139.36 L444.16 138.97 L443.8 138.58 L443.45 138.97 L443.8 139.36 M446.3 138.97 L451.3 138.97 M446.3 131.58 L452.01 131.58 L453.09 131.97 L453.44 132.35 L453.8 133.13 L453.8 134.3 L453.44 135.08 M447.37 131.58 L446.66 132.35 L446.3 133.13 L446.3 134.3 L446.66 135.08 L447.37 135.86 L448.44 136.24 L449.16 136.24 L450.23 135.86 L450.94 135.08 L451.3 134.3 L451.3 133.13 L450.94 132.35 L450.23 131.58 M443.8 128.46 L451.3 128.46 M447.73 128.46 L446.66 127.3 L446.3 126.52 L446.3 125.35 L446.66 124.57 L447.73 124.19 L451.3 124.19 M443.8 120.68 L449.87 120.68 L450.94 120.3 L451.3 119.52 L451.3 118.74 M446.3 121.85 L446.3 119.13 M446.3 116.41 L451.3 116.41 M447.73 116.41 L446.66 115.24 L446.3 114.46 L446.3 113.29 L446.66 112.52 L447.73 112.13 L451.3 112.13 M448.44 109.4 L448.44 104.74 L447.73 104.74 L447.02 105.12 L446.66 105.51 L446.3 106.29 L446.3 107.46 L446.66 108.24 L447.37 109.01 L448.44 109.4 L449.16 109.4 L450.23 109.01 L450.94 108.24 L451.3 107.46 L451.3 106.29 L450.94 105.51 L450.23 104.74 M447.37 98.12 L446.66 98.51 L446.3 99.68 L446.3 100.85 L446.66 102.01 L447.37 102.4 L448.09 102.01 L448.44 101.23 L448.8 99.29 L449.16 98.51 L449.87 98.12 L450.23 98.12 L450.94 98.51 L451.3 99.68 L451.3 100.85 L450.94 102.01 L450.23 102.4 M447.37 91.51 L446.66 91.9 L446.3 93.07 L446.3 94.23 L446.66 95.4 L447.37 95.79 L448.09 95.4 L448.44 94.62 L448.8 92.68 L449.16 91.9 L449.87 91.51 L450.23 91.51 L450.94 91.9 L451.3 93.07 L451.3 94.23 L450.94 95.4 L450.23 95.79" fill="none" stroke="#4c4c4c" stroke-width="0.88" stroke-opacity="1" stroke-linecap="butt" stroke-linejoin="round"/>
<path d="M366.19 38.48 L365.17 39.47 L364.14 40.95 L363.12 42.93 L362.6 45.41 L362.6 47.39 L363.12 49.86 L364.14 51.84 L365.17 53.33 L366.19 54.31 M375.43 43.92 L375.43 50.85 M375.43 45.41 L374.4 44.41 L373.38 43.92 L371.84 43.92 L370.81 44.41 L369.78 45.41 L369.27 46.89 L369.27 47.88 L369.78 49.37 L370.81 50.36 L371.84 50.85 L373.38 50.85 L374.4 50.36 L375.43 49.37 M379.02 38.48 L380.04 39.47 L381.07 40.95 L382.1 42.93 L382.61 45.41 L382.61 47.39 L382.1 49.86 L381.07 51.84 L380.04 53.33 L379.02 54.31 M782.19 36.12 L781.17 37.12 L780.14 38.6 L779.12 40.58 L778.6 43.05 L778.6 45.03 L779.12 47.51 L780.14 49.49 L781.17 50.98 L782.19 51.97 M785.78 38.11 L785.78 48.5 M785.78 43.05 L786.81 42.06 L787.84 41.57 L789.38 41.57 L790.4 42.06 L791.43 43.05 L791.94 44.54 L791.94 45.53 L791.43 47.02 L790.4 48.01 L789.38 48.5 L787.84 48.5 L786.81 48.01 L785.78 47.02 M795.02 36.12 L796.04 37.12 L797.07 38.6 L798.1 40.58 L798.61 43.05 L798.61 45.03 L798.1 47.51 L797.07 49.49 L796.04 50.98 L795.02 51.97" fill="none" stroke="#000" stroke-width="1.25" stroke-opacity="0.85" stroke-linecap="round" stroke-linejoin="round"/>
<path d="M103.3 56.07 L104.27 55.59 L105.72 54.14 L105.72 64.3 M117.34 57.52 L117.34 64.3 M117.34 58.98 L116.37 58.01 L115.4 57.52 L113.95 57.52 L112.98 58.01 L112.02 58.98 L111.53 60.43 L111.53 61.4 L112.02 62.85 L112.98 63.82 L113.95 64.3 L115.4 64.3 L116.37 63.82 L117.34 62.85 M102.34 70.21 L102.34 69.72 L102.82 68.75 L103.3 68.27 L104.27 67.79 L106.21 67.79 L107.18 68.27 L107.66 68.75 L108.14 69.72 L108.14 70.69 L107.66 71.66 L106.69 73.11 L101.85 77.95 L108.63 77.95 M117.34 71.17 L117.34 77.95 M117.34 72.63 L116.37 71.66 L115.4 71.17 L113.95 71.17 L112.98 71.66 L112.02 72.63 L111.53 74.08 L111.53 75.05 L112.02 76.5 L112.98 77.47 L113.95 77.95 L115.4 77.95 L116.37 77.47 L117.34 76.5 M102.82 104.39 L108.14 104.39 L105.24 108.26 L106.69 108.26 L107.66 108.74 L108.14 109.23 L108.63 110.68 L108.63 111.65 L108.14 113.1 L107.18 114.07 L105.72 114.55 L104.27 114.55 L102.82 114.07 L102.34 113.58 L101.85 112.61 M117.34 107.77 L117.34 114.55 M117.34 109.23 L116.37 108.26 L115.4 107.77 L113.95 107.77 L112.98 108.26 L112.02 109.23 L111.53 110.68 L111.53 111.65 L112.02 113.1 L112.98 114.07 L113.95 114.55 L115.4 114.55 L116.37 114.07 L117.34 113.1 M107.66 118.99 L102.82 118.99 L102.34 123.34 L102.82 122.86 L104.27 122.37 L105.72 122.37 L107.18 122.86 L108.14 123.83 L108.63 125.28 L108.63 126.25 L108.14 127.7 L107.18 128.67 L105.72 129.15 L104.27 129.15 L102.82 128.67 L102.34 128.18 L101.85 127.21 M117.34 122.37 L117.34 129.15 M117.34 123.83 L116.37 122.86 L115.4 122.37 L113.95 122.37 L112.98 122.86 L112.02 123.83 L111.53 125.28 L111.53 126.25 L112.02 127.7 L112.98 128.67 L113.95 129.15 L115.4 129.15 L116.37 128.67 L117.34 127.7 M106.69 132.59 L101.85 139.36 L109.11 139.36 M106.69 132.59 L106.69 142.75 M117.34 135.97 L117.34 142.75 M117.34 137.43 L116.37 136.46 L115.4 135.97 L113.95 135.97 L112.98 136.46 L112.02 137.43 L111.53 138.88 L111.53 139.85 L112.02 141.3 L112.98 142.27 L113.95 142.75 L115.4 142.75 L116.37 142.27 L117.34 141.3 M102.82 152.39 L108.14 152.39 L105.24 156.26 L106.69 156.26 L107.66 156.74 L108.14 157.23 L108.63 158.68 L108.63 159.65 L108.14 161.1 L107.18 162.07 L105.72 162.55 L104.27 162.55 L102.82 162.07 L102.34 161.58 L101.85 160.61 M117.34 155.77 L117.34 165.94 M117.34 157.23 L116.37 156.26 L115.4 155.77 L113.95 155.77 L112.98 156.26 L112.02 157.23 L111.53 158.68 L111.53 159.65 L112.02 161.1 L112.98 162.07 L113.95 162.55 L115.4 162.55 L116.37 162.07 L117.34 161.1 M103.3 167.82 L104.27 167.34 L105.72 165.89 L105.72 176.05 M117.34 169.27 L117.34 179.44 M117.34 170.73 L116.37 169.76 L115.4 169.27 L113.95 169.27 L112.98 169.76 L112.02 170.73 L111.53 172.18 L111.53 173.15 L112.02 174.6 L112.98 175.57 L113.95 176.05 L115.4 176.05 L116.37 175.57 L117.34 174.6 M102.34 232.01 L102.34 231.52 L102.82 230.55 L103.3 230.07 L104.27 229.59 L106.21 229.59 L107.18 230.07 L107.66 230.55 L108.14 231.52 L108.14 232.49 L107.66 233.46 L106.69 234.91 L101.85 239.75 L108.63 239.75 M117.34 232.97 L117.34 243.14 M117.34 234.43 L116.37 233.46 L115.4 232.97 L113.95 232.97 L112.98 233.46 L112.02 234.43 L111.53 235.88 L111.53 236.85 L112.02 238.3 L112.98 239.27 L113.95 239.75 L115.4 239.75 L116.37 239.27 L117.34 238.3 M107.66 267.99 L102.82 267.99 L102.34 272.34 L102.82 271.86 L104.27 271.37 L105.72 271.37 L107.18 271.86 L108.14 272.83 L108.63 274.28 L108.63 275.25 L108.14 276.7 L107.18 277.67 L105.72 278.15 L104.27 278.15 L102.82 277.67 L102.34 277.18 L101.85 276.21 M117.34 271.37 L117.34 281.54 M117.34 272.83 L116.37 271.86 L115.4 271.37 L113.95 271.37 L112.98 271.86 L112.02 272.83 L111.53 274.28 L111.53 275.25 L112.02 276.7 L112.98 277.67 L113.95 278.15 L115.4 278.15 L116.37 277.67 L117.34 276.7 M106.69 282.29 L101.85 289.06 L109.11 289.06 M106.69 282.29 L106.69 292.45 M117.34 285.67 L117.34 295.84 M117.34 287.13 L116.37 286.16 L115.4 285.67 L113.95 285.67 L112.98 286.16 L112.02 287.13 L111.53 288.58 L111.53 289.55 L112.02 291 L112.98 291.97 L113.95 292.45 L115.4 292.45 L116.37 291.97 L117.34 291 M522.49 57.39 L517.65 64.16 L524.91 64.16 M522.49 57.39 L522.49 67.55 M533.14 60.77 L533.14 67.55 M533.14 62.23 L532.17 61.26 L531.2 60.77 L529.75 60.77 L528.78 61.26 L527.82 62.23 L527.33 63.68 L527.33 64.65 L527.82 66.1 L528.78 67.07 L529.75 67.55 L531.2 67.55 L532.17 67.07 L533.14 66.1 M518.62 76.19 L523.94 76.19 L521.04 80.06 L522.49 80.06 L523.46 80.54 L523.94 81.03 L524.43 82.48 L524.43 83.45 L523.94 84.9 L522.98 85.87 L521.52 86.35 L520.07 86.35 L518.62 85.87 L518.14 85.38 L517.65 84.41 M533.14 79.57 L533.14 86.35 M533.14 81.03 L532.17 80.06 L531.2 79.57 L529.75 79.57 L528.78 80.06 L527.82 81.03 L527.33 82.48 L527.33 83.45 L527.82 84.9 L528.78 85.87 L529.75 86.35 L531.2 86.35 L532.17 85.87 L533.14 84.9 M518.14 94.61 L518.14 94.12 L518.62 93.15 L519.1 92.67 L520.07 92.19 L522.01 92.19 L522.98 92.67 L523.46 93.15 L523.94 94.12 L523.94 95.09 L523.46 96.06 L522.49 97.51 L517.65 102.35 L524.43 102.35 M533.14 95.57 L533.14 102.35 M533.14 97.03 L532.17 96.06 L531.2 95.57 L529.75 95.57 L528.78 96.06 L527.82 97.03 L527.33 98.48 L527.33 99.45 L527.82 100.9 L528.78 101.87 L529.75 102.35 L531.2 102.35 L532.17 101.87 L533.14 100.9 M519.1 118.02 L520.07 117.54 L521.52 116.09 L521.52 126.25 M533.14 119.47 L533.14 126.25 M533.14 120.93 L532.17 119.96 L531.2 119.47 L529.75 119.47 L528.78 119.96 L527.82 120.93 L527.33 122.38 L527.33 123.35 L527.82 124.8 L528.78 125.77 L529.75 126.25 L531.2 126.25 L532.17 125.77 L533.14 124.8 M523.46 138.29 L518.62 138.29 L518.14 142.64 L518.62 142.16 L520.07 141.67 L521.52 141.67 L522.98 142.16 L523.94 143.13 L524.43 144.58 L524.43 145.55 L523.94 147 L522.98 147.97 L521.52 148.45 L520.07 148.45 L518.62 147.97 L518.14 147.48 L517.65 146.51 M533.14 141.67 L533.14 148.45 M533.14 143.13 L532.17 142.16 L531.2 141.67 L529.75 141.67 L528.78 142.16 L527.82 143.13 L527.33 144.58 L527.33 145.55 L527.82 147 L528.78 147.97 L529.75 148.45 L531.2 148.45 L532.17 147.97 L533.14 147 M519.1 203.22 L520.07 202.74 L521.52 201.29 L521.52 211.45 M533.14 204.67 L533.14 214.84 M533.14 206.13 L532.17 205.16 L531.2 204.67 L529.75 204.67 L528.78 205.16 L527.82 206.13 L527.33 207.58 L527.33 208.55 L527.82 210 L528.78 210.97 L529.75 211.45 L531.2 211.45 L532.17 210.97 L533.14 210 M518.62 218.49 L523.94 218.49 L521.04 222.36 L522.49 222.36 L523.46 222.84 L523.94 223.33 L524.43 224.78 L524.43 225.75 L523.94 227.2 L522.98 228.17 L521.52 228.65 L520.07 228.65 L518.62 228.17 L518.14 227.68 L517.65 226.71 M533.14 221.87 L533.14 232.04 M533.14 223.33 L532.17 222.36 L531.2 221.87 L529.75 221.87 L528.78 222.36 L527.82 223.33 L527.33 224.78 L527.33 225.75 L527.82 227.2 L528.78 228.17 L529.75 228.65 L531.2 228.65 L532.17 228.17 L533.14 227.2" fill="none" stroke="#4c4c4c" stroke-width="1.0" stroke-opacity="1" stroke-linecap="butt" stroke-linejoin="round"/>
<path d="M127 64.75 L180.4 102.85 L233.7 143.75 L287 171.85 L340.4 192.35" fill="none" stroke="#ff0000" stroke-width="1.5" stroke-linejoin="round"/>
<path d="M127 64.75 V53.25 M122.8 53.25 h8.4 M127 64.75 V78.45 M122.8 78.45 h8.4 M180.4 102.85 V84.95 M176.2 84.95 h8.4 M180.4 102.85 V135.15 M176.2 135.15 h8.4 M233.7 143.75 V131.55 M229.5 131.55 h8.4 M233.7 143.75 V161.85 M229.5 161.85 h8.4 M287 171.85 V161.65 M282.8 161.65 h8.4 M287 171.85 V186.25 M282.8 186.25 h8.4 M340.4 192.35 V180.35 M336.2 180.35 h8.4 M340.4 192.35 V205.65 M336.2 205.65 h8.4 M336.2 210.05 h8.4" fill="none" stroke="#ff0000" stroke-width="1.75"/>
<path d="M121.1 67.9 L132.9 67.9 L127 58.55 Z M174.5 106 L186.3 106 L180.4 96.65 Z M227.8 146.9 L239.6 146.9 L233.7 137.55 Z M281.1 175 L292.9 175 L287 165.65 Z M334.5 195.5 L346.3 195.5 L340.4 186.15 Z" fill="#ff0000"/>
<path d="M127 172.95 L180.4 180.45 L233.7 197.55 L287 220.05 L340.4 238.15" fill="none" stroke="#0000ff" stroke-width="1.5" stroke-linejoin="round"/>
<path d="M127 172.95 V168.25 M122.8 168.25 h8.4 M127 172.95 V177.85 M122.8 177.85 h8.4 M180.4 180.45 V169.25 M176.2 169.25 h8.4 M233.7 197.55 V181.15 M229.5 181.15 h8.4 M233.7 197.55 V226.75 M229.5 226.75 h8.4 M287 220.05 V253.15 M282.8 253.15 h8.4 M340.4 238.15 V265.55 M336.2 265.55 h8.4" fill="none" stroke="#0000ff" stroke-width="1.55"/>
<circle cx="127" cy="172.95" r="4.65" fill="#0000ff"/>
<circle cx="180.4" cy="180.45" r="4.65" fill="#0000ff"/>
<circle cx="233.7" cy="197.55" r="4.65" fill="#0000ff"/>
<circle cx="287" cy="220.05" r="4.65" fill="#0000ff"/>
<circle cx="340.4" cy="238.15" r="4.65" fill="#0000ff"/>
<path d="M127 71.05 L180.4 143.95 L233.7 184.55 L287 204.65 L340.4 221.25" fill="none" stroke="#ff0000" stroke-width="1.5" stroke-linejoin="round"/>
<path d="M127 71.05 V55.15 M122.8 55.15 h8.4 M127 71.05 V105.85 M122.8 105.85 h8.4 M180.4 143.95 V126.65 M176.2 126.65 h8.4 M180.4 143.95 V148.15 M176.2 148.15 h8.4 M233.7 184.55 V171.55 M229.5 171.55 h8.4 M287 204.65 V190.75 M282.8 190.75 h8.4 M287 204.65 V229.25 M282.8 229.25 h8.4 M340.4 221.25 V205.65 M336.2 205.65 h8.4 M340.4 221.25 V249.95 M336.2 249.95 h8.4" fill="none" stroke="#ff0000" stroke-width="1.75"/>
<path d="M121.1 74.2 L132.9 74.2 L127 64.85 Z M174.5 147.1 L186.3 147.1 L180.4 137.75 Z M227.8 187.7 L239.6 187.7 L233.7 178.35 Z M281.1 207.8 L292.9 207.8 L287 198.45 Z M334.5 224.4 L346.3 224.4 L340.4 215.05 Z" fill="#ff0000"/>
<path d="M127 239.55 L180.4 239.25 L233.7 239.25 L287 239.75 L340.4 239.25" fill="none" stroke="#0000ff" stroke-width="1.5" stroke-dasharray="8.2 8.1"/>
<circle cx="127" cy="239.55" r="3.4" fill="none" stroke="#0000ff" stroke-width="0.7"/>
<path d="M127 239.55 V249.05" stroke="#0000ff" stroke-width="1.9" fill="none"/>
<path d="M124.2 247.95 L129.8 247.95 L127 253.85 Z" fill="#0000ff"/>
<circle cx="180.4" cy="239.25" r="3.4" fill="none" stroke="#0000ff" stroke-width="0.7"/>
<path d="M180.4 239.25 V248.75" stroke="#0000ff" stroke-width="1.9" fill="none"/>
<path d="M177.6 247.65 L183.2 247.65 L180.4 253.55 Z" fill="#0000ff"/>
<circle cx="233.7" cy="239.25" r="3.4" fill="none" stroke="#0000ff" stroke-width="0.7"/>
<path d="M233.7 239.25 V248.75" stroke="#0000ff" stroke-width="1.9" fill="none"/>
<path d="M230.9 247.65 L236.5 247.65 L233.7 253.55 Z" fill="#0000ff"/>
<circle cx="287" cy="239.75" r="3.4" fill="none" stroke="#0000ff" stroke-width="0.7"/>
<path d="M287 239.75 V249.25" stroke="#0000ff" stroke-width="1.9" fill="none"/>
<path d="M284.2 248.15 L289.8 248.15 L287 254.05 Z" fill="#0000ff"/>
<circle cx="340.4" cy="239.25" r="3.4" fill="none" stroke="#0000ff" stroke-width="0.7"/>
<path d="M340.4 239.25 V248.75" stroke="#0000ff" stroke-width="1.9" fill="none"/>
<path d="M337.6 247.65 L343.2 247.65 L340.4 253.55 Z" fill="#0000ff"/>
<path d="M127 115.55 L180.4 163.25 L233.7 205.55 L287 246.6 L340.4 272.55" fill="none" stroke="#ff0000" stroke-width="1.5" stroke-linejoin="round"/>
<path d="M127 115.55 V101.75 M122.8 101.75 h8.4 M127 115.55 V141.05 M122.8 141.05 h8.4 M180.4 163.25 V172.15 M176.2 172.15 h8.4 M233.7 205.55 V233.75 M229.5 233.75 h8.4 M287 246.6 V234.55 M282.8 234.55 h8.4 M287 246.6 V264.95 M282.8 264.95 h8.4 M340.4 272.55 V258.65 M336.2 258.65 h8.4 M340.4 272.55 V285.75 M336.2 285.75 h8.4 M336.2 263.75 h8.4" fill="none" stroke="#ff0000" stroke-width="1.75"/>
<path d="M121.1 118.7 L132.9 118.7 L127 109.35 Z M174.5 166.4 L186.3 166.4 L180.4 157.05 Z M227.8 208.7 L239.6 208.7 L233.7 199.35 Z M281.1 249.75 L292.9 249.75 L287 240.4 Z M334.5 275.7 L346.3 275.7 L340.4 266.35 Z" fill="#ff0000"/>
<path d="M127 162.45 L180.4 196.35 L233.7 204.35 L287 211.75 L340.4 215.75" fill="none" stroke="#0000ff" stroke-width="1.5" stroke-linejoin="round"/>
<path d="M127 162.45 V145.75 M122.8 145.75 h8.4 M127 162.45 V193.55 M122.8 193.55 h8.4 M180.4 196.35 V184.85 M176.2 184.85 h8.4 M180.4 196.35 V212.55 M176.2 212.55 h8.4 M233.7 204.35 V191.75 M229.5 191.75 h8.4 M233.7 204.35 V223.65 M229.5 223.65 h8.4 M287 211.75 V193.25 M282.8 193.25 h8.4 M287 211.75 V243.65 M282.8 243.65 h8.4 M340.4 215.75 V196.25 M336.2 196.25 h8.4 M340.4 215.75 V255.05 M336.2 255.05 h8.4" fill="none" stroke="#0000ff" stroke-width="1.55"/>
<circle cx="127" cy="162.45" r="4.65" fill="#0000ff"/>
<circle cx="180.4" cy="196.35" r="4.65" fill="#0000ff"/>
<circle cx="233.7" cy="204.35" r="4.65" fill="#0000ff"/>
<circle cx="287" cy="211.75" r="4.65" fill="#0000ff"/>
<circle cx="340.4" cy="215.75" r="4.65" fill="#0000ff"/>
<path d="M127 135.85 L180.4 191.05 L233.7 254.85 L287 289.35 L340.4 306.05" fill="none" stroke="#ff0000" stroke-width="1.5" stroke-linejoin="round"/>
<path d="M127 135.85 V163.45 M122.8 163.45 h8.4 M180.4 191.05 V263.65 M176.2 263.65 h8.4 M233.7 254.85 V235.65 M229.5 235.65 h8.4 M233.7 254.85 V287.35 M229.5 287.35 h8.4 M287 289.35 V313.15 M282.8 313.15 h8.4 M340.4 306.05 V295.75 M336.2 295.75 h8.4 M340.4 306.05 V319.95 M336.2 319.95 h8.4" fill="none" stroke="#ff0000" stroke-width="1.75"/>
<path d="M121.1 139 L132.9 139 L127 129.65 Z M174.5 194.2 L186.3 194.2 L180.4 184.85 Z M227.8 258 L239.6 258 L233.7 248.65 Z M281.1 292.5 L292.9 292.5 L287 283.15 Z M334.5 309.2 L346.3 309.2 L340.4 299.85 Z" fill="#ff0000"/>
<path d="M127 286.15 L180.4 285.05 L233.7 285.55" fill="none" stroke="#0000ff" stroke-width="1.5" stroke-dasharray="8.2 8.1"/>
<circle cx="127" cy="286.15" r="3.4" fill="none" stroke="#0000ff" stroke-width="0.7"/>
<path d="M127 286.15 V295.65" stroke="#0000ff" stroke-width="1.9" fill="none"/>
<path d="M124.2 294.55 L129.8 294.55 L127 300.45 Z" fill="#0000ff"/>
<circle cx="180.4" cy="285.05" r="3.4" fill="none" stroke="#0000ff" stroke-width="0.7"/>
<path d="M180.4 285.05 V294.55" stroke="#0000ff" stroke-width="1.9" fill="none"/>
<path d="M177.6 293.45 L183.2 293.45 L180.4 299.35 Z" fill="#0000ff"/>
<circle cx="233.7" cy="285.55" r="3.4" fill="none" stroke="#0000ff" stroke-width="0.7"/>
<path d="M233.7 285.55 V295.05" stroke="#0000ff" stroke-width="1.9" fill="none"/>
<path d="M230.9 293.95 L236.5 293.95 L233.7 299.85 Z" fill="#0000ff"/>
<path d="M127 127.75 L180.4 153.65 L233.7 185.95 L287 219.55 L340.4 238.95" fill="none" stroke="#ff0000" stroke-width="1.5" stroke-linejoin="round"/>
<path d="M127 127.75 V144.85 M122.8 144.85 h8.4 M180.4 153.65 V174.25 M176.2 174.25 h8.4 M233.7 185.95 V172.25 M229.5 172.25 h8.4 M233.7 185.95 V210.15 M229.5 210.15 h8.4 M287 219.55 V205.75 M287 219.55 V238.75 M282.8 238.75 h8.4 M340.4 238.95 V226.55 M336.2 226.55 h8.4" fill="none" stroke="#ff0000" stroke-width="1.75"/>
<path d="M121.1 130.9 L132.9 130.9 L127 121.55 Z M174.5 156.8 L186.3 156.8 L180.4 147.45 Z M227.8 189.1 L239.6 189.1 L233.7 179.75 Z M281.1 222.7 L292.9 222.7 L287 213.35 Z M334.5 242.1 L346.3 242.1 L340.4 232.75 Z" fill="#ff0000"/>
<path d="M127 278.45 L180.4 273.05 L233.7 272.35 L287 274.45 L340.4 276.45" fill="none" stroke="#0000ff" stroke-width="1.5" stroke-dasharray="8.2 8.1"/>
<circle cx="127" cy="278.45" r="3.4" fill="none" stroke="#0000ff" stroke-width="0.7"/>
<path d="M127 278.45 V287.95" stroke="#0000ff" stroke-width="1.9" fill="none"/>
<path d="M124.2 286.85 L129.8 286.85 L127 292.75 Z" fill="#0000ff"/>
<circle cx="180.4" cy="273.05" r="3.4" fill="none" stroke="#0000ff" stroke-width="0.7"/>
<path d="M180.4 273.05 V282.55" stroke="#0000ff" stroke-width="1.9" fill="none"/>
<path d="M177.6 281.45 L183.2 281.45 L180.4 287.35 Z" fill="#0000ff"/>
<circle cx="233.7" cy="272.35" r="3.4" fill="none" stroke="#0000ff" stroke-width="0.7"/>
<path d="M233.7 272.35 V281.85" stroke="#0000ff" stroke-width="1.9" fill="none"/>
<path d="M230.9 280.75 L236.5 280.75 L233.7 286.65 Z" fill="#0000ff"/>
<circle cx="287" cy="274.45" r="3.4" fill="none" stroke="#0000ff" stroke-width="0.7"/>
<path d="M287 274.45 V283.95" stroke="#0000ff" stroke-width="1.9" fill="none"/>
<path d="M284.2 282.85 L289.8 282.85 L287 288.75 Z" fill="#0000ff"/>
<circle cx="340.4" cy="276.45" r="3.4" fill="none" stroke="#0000ff" stroke-width="0.7"/>
<path d="M340.4 276.45 V285.95" stroke="#0000ff" stroke-width="1.9" fill="none"/>
<path d="M337.6 284.85 L343.2 284.85 L340.4 290.75 Z" fill="#0000ff"/>
<path d="M542.9 126.35 L596.1 178.05 L649.6 233.25 L702.8 275.05 L756.2 301.45" fill="none" stroke="#ff0000" stroke-width="1.5" stroke-linejoin="round"/>
<path d="M542.9 126.35 V113.05 M538.7 113.05 h8.4 M542.9 126.35 V142.95 M538.7 142.95 h8.4 M596.1 178.05 V207.15 M591.9 207.15 h8.4 M649.6 233.25 V217.65 M645.4 217.65 h8.4 M702.8 275.05 V257.25 M698.6 257.25 h8.4 M702.8 275.05 V299.55 M698.6 299.55 h8.4 M756.2 301.45 V287.15 M752 287.15 h8.4 M756.2 301.45 V320.65 M752 320.65 h8.4" fill="none" stroke="#ff0000" stroke-width="1.75"/>
<path d="M537 129.5 L548.8 129.5 L542.9 120.15 Z M590.2 181.2 L602 181.2 L596.1 171.85 Z M643.7 236.4 L655.5 236.4 L649.6 227.05 Z M696.9 278.2 L708.7 278.2 L702.8 268.85 Z M750.3 304.6 L762.1 304.6 L756.2 295.25 Z" fill="#ff0000"/>
<path d="M542.9 211.55 L596.1 221.65 L649.6 245.25 L702.8 276.55 L756.2 301.65" fill="none" stroke="#0000ff" stroke-width="1.5" stroke-linejoin="round"/>
<path d="M542.9 211.55 V204.75 M538.7 204.75 h8.4 M542.9 211.55 V218.15 M538.7 218.15 h8.4 M596.1 221.65 V205.75 M591.9 205.75 h8.4 M596.1 221.65 V242.05 M591.9 242.05 h8.4 M649.6 245.25 V222.45 M645.4 222.45 h8.4 M702.8 276.55 V253.35 M698.6 253.35 h8.4 M702.8 276.55 V321.65 M698.6 321.65 h8.4" fill="none" stroke="#0000ff" stroke-width="1.55"/>
<circle cx="542.9" cy="211.55" r="4.65" fill="#0000ff"/>
<circle cx="596.1" cy="221.65" r="4.65" fill="#0000ff"/>
<circle cx="649.6" cy="245.25" r="4.65" fill="#0000ff"/>
<circle cx="702.8" cy="276.55" r="4.65" fill="#0000ff"/>
<circle cx="756.2" cy="301.65" r="4.65" fill="#0000ff"/>
<path d="M542.9 94.55 L596.1 194.55 L649.6 248.55 L702.8 277.15 L756.2 301.45" fill="none" stroke="#ff0000" stroke-width="1.5" stroke-linejoin="round"/>
<path d="M542.9 94.55 V119.05 M538.7 119.05 h8.4 M649.6 248.55 V213.65 M645.4 213.65 h8.4 M649.6 248.55 V259.15 M645.4 259.15 h8.4 M702.8 277.15 V258.65 M698.6 258.65 h8.4 M756.2 301.45 V279.25 M752 279.25 h8.4 M756.2 301.45 V339.25 M752 339.25 h8.4" fill="none" stroke="#ff0000" stroke-width="1.75"/>
<path d="M537 97.7 L548.8 97.7 L542.9 88.35 Z M590.2 197.7 L602 197.7 L596.1 188.35 Z M643.7 251.7 L655.5 251.7 L649.6 242.35 Z M696.9 280.3 L708.7 280.3 L702.8 270.95 Z M750.3 304.6 L762.1 304.6 L756.2 295.25 Z" fill="#ff0000"/>
<path d="M542.9 85.75 L596.1 151.35 L649.6 208.55 L702.8 265.05 L756.2 301.45" fill="none" stroke="#ff0000" stroke-width="1.5" stroke-linejoin="round"/>
<path d="M542.9 85.75 V113.25 M538.7 113.25 h8.4 M596.1 151.35 V130.75 M591.9 130.75 h8.4 M596.1 151.35 V169.25 M591.9 169.25 h8.4 M649.6 208.55 V185.85 M645.4 185.85 h8.4 M649.6 208.55 V272.55 M645.4 272.55 h8.4 M702.8 265.05 V248.65 M698.6 248.65 h8.4 M702.8 265.05 V289.95 M698.6 289.95 h8.4 M756.2 301.45 V284.15 M752 284.15 h8.4 M756.2 301.45 V327.65 M752 327.65 h8.4" fill="none" stroke="#ff0000" stroke-width="1.75"/>
<path d="M537 88.9 L548.8 88.9 L542.9 79.55 Z M590.2 154.5 L602 154.5 L596.1 145.15 Z M643.7 211.7 L655.5 211.7 L649.6 202.35 Z M696.9 268.2 L708.7 268.2 L702.8 258.85 Z M750.3 304.6 L762.1 304.6 L756.2 295.25 Z" fill="#ff0000"/>
<path d="M542.9 228.55 L596.1 274.95 L649.6 286.45 L702.8 295.05 L756.2 301.65" fill="none" stroke="#0000ff" stroke-width="1.5" stroke-linejoin="round"/>
<path d="M542.9 228.55 V204.75 M538.7 204.75 h8.4 M542.9 228.55 V270.65 M538.7 270.65 h8.4 M596.1 274.95 V258.75 M591.9 258.75 h8.4 M596.1 274.95 V297.05 M591.9 297.05 h8.4 M649.6 286.45 V268.95 M645.4 268.95 h8.4 M649.6 286.45 V312.65 M645.4 312.65 h8.4 M702.8 295.05 V270.45 M698.6 270.45 h8.4 M702.8 295.05 V339.75 M698.6 339.75 h8.4 M756.2 301.65 V274.25 M752 274.25 h8.4 M756.2 301.65 V355.05 M752 355.05 h8.4" fill="none" stroke="#0000ff" stroke-width="1.55"/>
<circle cx="542.9" cy="228.55" r="4.65" fill="#0000ff"/>
<circle cx="596.1" cy="274.95" r="4.65" fill="#0000ff"/>
<circle cx="649.6" cy="286.45" r="4.65" fill="#0000ff"/>
<circle cx="702.8" cy="295.05" r="4.65" fill="#0000ff"/>
<circle cx="756.2" cy="301.65" r="4.65" fill="#0000ff"/>
<path d="M542.9 67.75 L596.1 144.15 L649.6 231.55 L702.8 276.55 L756.2 301.45" fill="none" stroke="#ff0000" stroke-width="1.5" stroke-linejoin="round"/>
<path d="M542.9 67.75 V44.95 M538.7 44.95 h8.4 M542.9 67.75 V106.25 M538.7 106.25 h8.4 M596.1 144.15 V109.95 M591.9 109.95 h8.4 M596.1 144.15 V236.85 M591.9 236.85 h8.4 M649.6 231.55 V275.25 M645.4 275.25 h8.4 M702.8 276.55 V311.15 M698.6 311.15 h8.4 M756.2 301.45 V288.05 M752 288.05 h8.4 M756.2 301.45 V318.45 M752 318.45 h8.4" fill="none" stroke="#ff0000" stroke-width="1.75"/>
<path d="M537 70.9 L548.8 70.9 L542.9 61.55 Z M590.2 147.3 L602 147.3 L596.1 137.95 Z M643.7 234.7 L655.5 234.7 L649.6 225.35 Z M696.9 279.7 L708.7 279.7 L702.8 270.35 Z M750.3 304.6 L762.1 304.6 L756.2 295.25 Z" fill="#ff0000"/>
<path d="M542.9 147.55 L596.1 184.35 L649.6 229.05 L702.8 275.85 L756.2 301.45" fill="none" stroke="#ff0000" stroke-width="1.5" stroke-linejoin="round"/>
<path d="M542.9 147.55 V131.05 M538.7 131.05 h8.4 M542.9 147.55 V171.15 M538.7 171.15 h8.4 M596.1 184.35 V171.25 M591.9 171.25 h8.4 M596.1 184.35 V242.05 M591.9 242.05 h8.4 M649.6 229.05 V261.55 M645.4 261.55 h8.4 M756.2 301.45 V287.15 M752 287.15 h8.4 M756.2 301.45 V325.45 M752 325.45 h8.4" fill="none" stroke="#ff0000" stroke-width="1.75"/>
<path d="M537 150.7 L548.8 150.7 L542.9 141.35 Z M590.2 187.5 L602 187.5 L596.1 178.15 Z M643.7 232.2 L655.5 232.2 L649.6 222.85 Z M696.9 279 L708.7 279 L702.8 269.65 Z M750.3 304.6 L762.1 304.6 L756.2 295.25 Z" fill="#ff0000"/>
</svg>
</body></html>
